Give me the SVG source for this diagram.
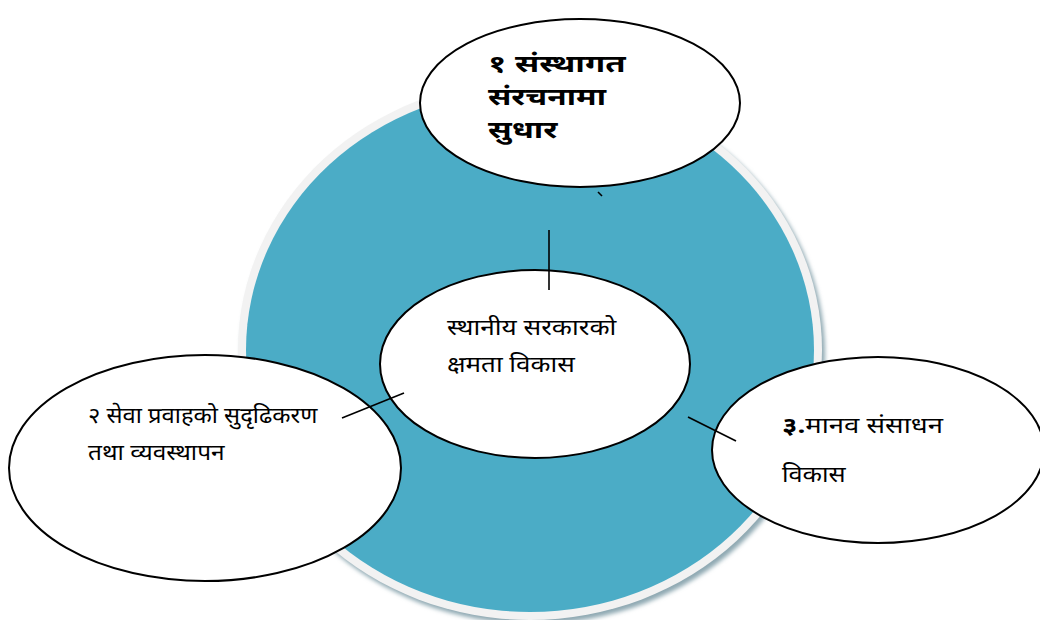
<svg xmlns="http://www.w3.org/2000/svg" width="1040" height="620" viewBox="0 0 1040 620">
<style>
.node{fill:#ffffff;stroke:#000000;stroke-width:2}
.t{font-family:"Noto Sans Devanagari","Noto Sans","Lohit Devanagari","Mangal",sans-serif;font-size:22px;fill:#000}
.b{font-weight:bold;font-size:24px}
.c{stroke:#000;stroke-width:1.6;fill:none}
</style>
<defs>
<filter id="sh" x="-10%" y="-10%" width="120%" height="120%"><feGaussianBlur stdDeviation="2"/></filter>
</defs>
<rect width="1040" height="620" fill="#ffffff"/>
<g id="backdrop">
<ellipse cx="533" cy="354" rx="292" ry="270" fill="#8fa9b2" filter="url(#sh)"/>
<ellipse cx="530" cy="350" rx="292" ry="270" fill="#f2f2f2"/>
<ellipse cx="530" cy="350" rx="284" ry="262" fill="#4bacc6"/>
</g>
<g id="node-top">
<ellipse class="node" cx="580" cy="103" rx="160" ry="84"/>
<text class="t b" transform="translate(488 72) scale(1.37 1)">१ संस्थागत</text>
<text class="t b" transform="translate(488 105) scale(1.32 1)">संरचनामा</text>
<text class="t b" transform="translate(488 138) scale(1.34 1)">सुधार</text>
</g>
<g id="node-center">
<ellipse class="node" cx="535" cy="364" rx="155" ry="94"/>
<text class="t" transform="translate(447 335) scale(1.19 1)">स्थानीय सरकारको</text>
<text class="t" transform="translate(447 372) scale(1.18 1)">क्षमता विकास</text>
</g>
<g id="node-left">
<ellipse class="node" cx="205" cy="468" rx="196" ry="113"/>
<text class="t" transform="translate(88 423) scale(1.08 1)">२ सेवा प्रवाहको सुदृढिकरण</text>
<text class="t" transform="translate(88 460) scale(1.11 1)">तथा व्यवस्थापन</text>
</g>
<g id="node-right">
<ellipse class="node" cx="878" cy="450" rx="166" ry="93"/>
<text class="t" transform="translate(782 433) scale(1.25 1)"><tspan font-weight="bold">३.</tspan>मानव संसाधन</text>
<text class="t" transform="translate(782 482) scale(1.15 1)">विकास</text>
</g>
<g id="connectors">
<line class="c" x1="549" y1="230" x2="549" y2="290"/>
<line class="c" x1="598" y1="192" x2="602" y2="196"/>
<line class="c" x1="342" y1="418" x2="404" y2="393"/>
<line class="c" x1="688" y1="417" x2="736" y2="441"/>
</g>
</svg>
